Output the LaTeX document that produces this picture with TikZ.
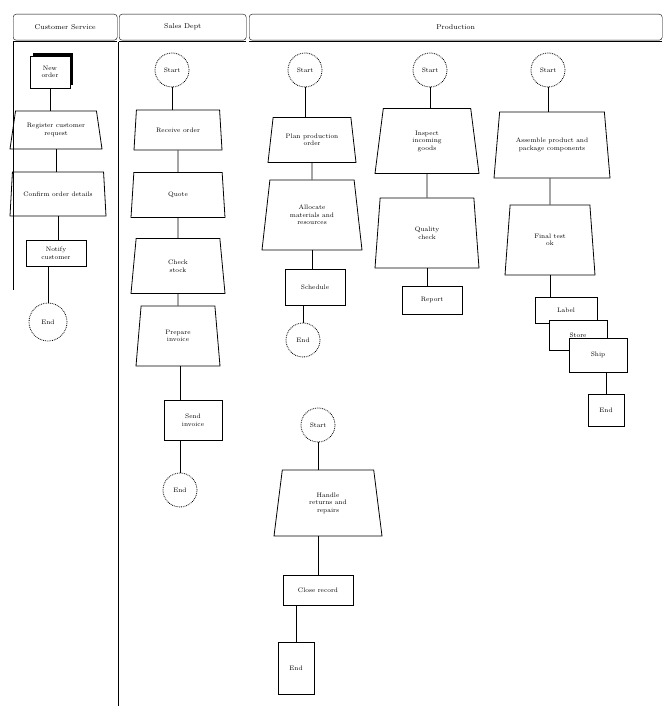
\documentclass[tikz,border=0pt]{standalone}
\usetikzlibrary{shapes.geometric,shadows}
\begin{document}
\begin{tikzpicture}[x=1pt,y=-1pt,
  every node/.style={font=\fontsize{6.5}{7.5}\selectfont,align=center},
  trap/.style={draw,thick,trapezium,trapezium left angle=70,trapezium right angle=70,trapezium stretches body,inner sep=1pt},
  startc/.style={draw,densely dotted,thick,circle,minimum size=34pt,inner sep=0pt},
  procbox/.style={draw,thick,rectangle,inner sep=2pt,fill=white},
  lanehead/.style={draw,rounded corners=3pt,minimum height=26pt,anchor=north west,font=\fontsize{7}{8}\selectfont},
  conn/.style={draw,thick}]
\useasboundingbox (0,0) rectangle (662,706);
% lane headers
\node[lanehead,minimum width=104pt] (h1) at (13,14) {Customer Service};
\node[lanehead,minimum width=127pt] (h2) at (119,14) {Sales Dept};
\node[lanehead,minimum width=413pt] (h3) at (249,14) {Production};
\draw[double,thick] (13,42) -- (117,42);
\draw[double,thick] (119,42) -- (246,42);
\draw[double,thick] (249,42) -- (662,42);
\draw[thick] (13,42) -- (13,290);
\draw[thick] (118,42) -- (118,706);
% lane 1
\node[procbox,minimum width=40pt,minimum height=32pt,drop shadow={fill=black,opacity=1,shadow xshift=3pt,shadow yshift=3pt}] (a1) at (50,72) {New\\order};
\node[trap,minimum width=92pt,minimum height=38pt] (a2) at (56,130) {Register customer\\request};
\node[trap,minimum width=96pt,minimum height=44pt] (a3) at (58,194) {Confirm order details};
\node[procbox,minimum width=60pt,minimum height=26pt] (a4) at (56,253) {Notify\\customer};
\node[startc,minimum size=38pt] (a5) at (48,322) {End};
\draw[conn] (a1.south) -- (a1.south |- a2.north);
\draw[conn] (a2.south) -- (a2.south |- a3.north);
\draw[conn] (a3.south) -- (a3.south |- a4.north);
\draw[conn] (a4.south -| a5) -- (a5);
% lane 2
\node[startc] (b1) at (172,70) {Start};
\node[trap,minimum width=88pt,minimum height=40pt] (b2) at (178,130) {Receive order};
\node[trap,minimum width=94pt,minimum height=45pt] (b3) at (178,195) {Quote};
\node[trap,minimum width=94pt,minimum height=55pt] (b4) at (178,266) {Check\\stock};
\node[trap,minimum width=84pt,minimum height=60pt] (b5) at (178,336) {Prepare\\invoice};
\node[procbox,minimum width=58pt,minimum height=40pt] (b6) at (193,420) {Send\\invoice};
\node[startc] (b7) at (180,490) {End};
\draw[conn] (b1.south) -- (b1.south |- b2.north);
\draw[conn] (b2) -- (b3);
\draw[conn] (b3) -- (b4);
\draw[conn] (b4) -- (b5);
\draw[conn] (b5.south -| b7) -- (b6.north -| b7);
\draw[conn] (b6.south -| b7) -- (b7);
% lane 3 col A
\node[startc] (c1) at (305,70) {Start};
\node[trap,minimum width=88pt,minimum height=45pt] (c2) at (312,140) {Plan production\\order};
\node[trap,minimum width=100pt,minimum height=70pt] (c3) at (312,215) {Allocate\\materials and\\resources};
\node[procbox,minimum width=60pt,minimum height=36pt] (c4) at (315,287) {Schedule};
\node[startc] (c5) at (303,340) {End};
\draw[conn] (c1) -- (c1 |- c2.north);
\draw[conn] (c2) -- (c3);
\draw[conn] (c3.south) -- (c3.south |- c4.north);
\draw[conn] (c4.south -| c5) -- (c5);
% col B
\node[startc] (d1) at (430,70) {Start};
\node[trap,minimum width=104pt,minimum height=65pt] (d2) at (427,141) {Inspect\\incoming\\goods};
\node[trap,minimum width=104pt,minimum height=70pt] (d3) at (427,233) {Quality\\check};
\node[procbox,minimum width=60pt,minimum height=28pt] (d4) at (432,300) {Report};
\draw[conn] (d1) -- (d1 |- d2.north);
\draw[conn] (d2) -- (d3);
\draw[conn] (d3.south) -- (d3.south |- d4.north);
% col C
\node[startc] (e1) at (548,70) {Start};
\node[trap,minimum width=116pt,minimum height=66pt] (e2) at (552,145) {Assemble product and\\package components};
\node[trap,minimum width=90pt,minimum height=70pt] (e3) at (550,240) {Final test\\ok};
\node[procbox,minimum width=62pt,minimum height=26pt] (e4) at (566,310) {Label};
\node[procbox,minimum width=58pt,minimum height=30pt] (e5) at (578,335) {Store};
\node[procbox,minimum width=58pt,minimum height=34pt] (e6) at (598,355) {Ship};
\node[procbox,minimum width=36pt,minimum height=32pt] (e7) at (606,410) {End};
\draw[conn] (e1) -- (e1 |- e2.north);
\draw[conn] (e2.south -| e3) -- (e3);
\draw[conn] (e3.south) -- (e3.south |- e4.north);
\draw[conn] (e6.south -| e7) -- (e7);
% col D
\node[startc] (f1) at (318,425) {Start};
\node[trap,minimum width=108pt,minimum height=66pt] (f2) at (328,503) {Handle\\returns and\\repairs};
\node[procbox,minimum width=70pt,minimum height=30pt] (f3) at (318,590) {Close record};
\node[procbox,minimum width=36pt,minimum height=52pt] (f4) at (296,668) {End};
\draw[conn] (f1) -- (f1 |- f2.north);
\draw[conn] (f2.south -| f3) -- (f3);
\draw[conn] (f3.south -| f4) -- (f4);
\end{tikzpicture}
\end{document}
